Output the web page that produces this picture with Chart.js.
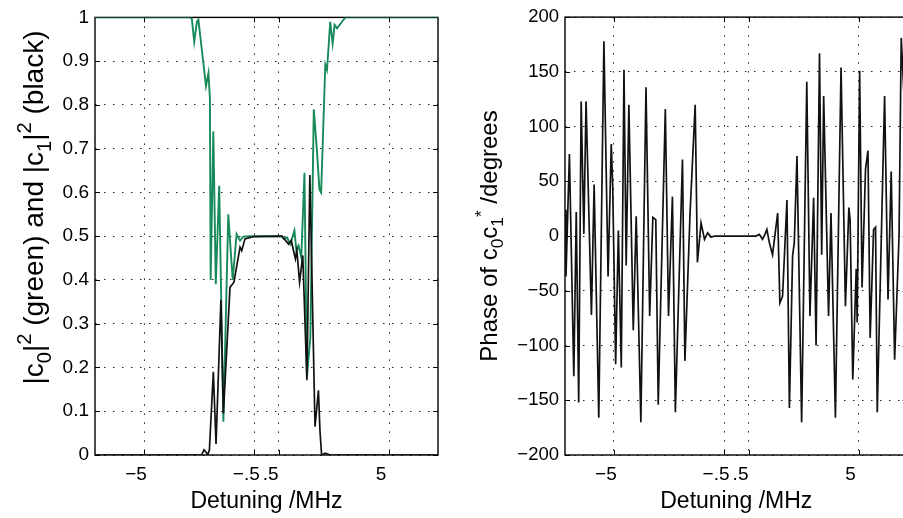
<!DOCTYPE html>
<html><head><meta charset="utf-8">
<script src="https://cdn.jsdelivr.net/npm/chart.js@4"></script>
<style>
html,body{margin:0;padding:0;background:#fff;overflow:hidden;}
#wrap{position:relative;width:903px;height:518px;overflow:hidden;background:#fff;}
.cw{position:absolute;top:0;width:460px;height:518px;}
</style></head><body>
<div id="wrap">
<div class="cw" style="left:0"><canvas id="c1" width="460" height="518"></canvas></div>
<div class="cw" style="left:460px"><canvas id="c2" width="460" height="518"></canvas></div>
</div>
<script>
// ---------- data ----------
const xTickValues = [-5, -0.5, 0.5, 5];
const xTickLabels = ['−5', '−.5', '.5', '5'];
const yTicksLeft = [0, 0.1, 0.2, 0.3, 0.4, 0.5, 0.6, 0.7, 0.8, 0.9, 1];
const yLabelsLeft = ['0', '0.1', '0.2', '0.3', '0.4', '0.5', '0.6', '0.7', '0.8', '0.9', '1'];
const yTicksRight = [-200, -150, -100, -50, 0, 50, 100, 150, 200];
const yLabelsRight = ['−200', '−150', '−100', '−50', '0', '50', '100', '150', '200'];

// |c0|^2 (green)
const c0X = [-7, -3.15, -3.05, -2.95, -2.84, -2.78, -2.47, -2.37, -2.31, -2.28, -2.17, -2.07, -1.93, -1.76, -1.56, -1.38, -1.22, -1.08, -0.95, -0.7, 0.63, 0.70, 0.84, 0.97, 1.14, 1.22, 1.31, 1.42, 1.55, 1.65, 1.79, 1.93, 2.06, 2.16, 2.23, 2.40, 2.47, 2.54, 2.60, 2.70, 2.78, 2.88, 3.08, 3.22, 7];
const c0Y = [1, 1, 0.998, 0.944, 0.99, 0.995, 0.843, 0.873, 0.816, 0.40, 0.74, 0.39, 0.615, 0.076, 0.55, 0.40, 0.505, 0.49, 0.499, 0.5, 0.5, 0.494, 0.497, 0.482, 0.513, 0.467, 0.478, 0.452, 0.645, 0.178, 0.27, 0.79, 0.695, 0.607, 0.60, 0.892, 0.88, 0.938, 0.99, 0.94, 0.983, 0.975, 0.99, 1, 1];

// |c1|^2 (black)
const c1X = [-7, -2.65, -2.55, -2.45, -2.40, -2.33, -2.17, -2.06, -1.86, -1.76, -1.49, -1.33, -1.22, -1.08, -1.01, -0.88, -0.55, 0.63, 0.90, 1.01, 1.18, 1.24, 1.35, 1.48, 1.65, 1.77, 1.98, 2.12, 2.18, 2.25, 2.4, 2.6, 7];
const c1Y = [0, 0, 0.012, 0.005, 0.0, 0.012, 0.19, 0.025, 0.355, 0.095, 0.383, 0.395, 0.43, 0.475, 0.467, 0.494, 0.499, 0.5, 0.482, 0.49, 0.448, 0.467, 0.395, 0.456, 0.171, 0.64, 0.065, 0.148, 0.057, 0, 0.004, 0, 0];

// phase of c0 c1* (degrees)
const phaseX = [-7.0, -6.96, -6.82, -6.64, -6.54, -6.44, -6.34, -6.23, -6.14, -5.92, -5.81, -5.62, -5.41, -5.24, -5.11, -5.05, -4.93, -4.82, -4.70, -4.59, -4.50, -4.39, -4.21, -4.09, -3.90, -3.69, -3.54, -3.41, -3.29, -3.19, -2.90, -2.77, -2.61, -2.49, -2.20, -2.10, -1.89, -1.68, -1.59, -1.44, -1.30, -1.17, -1.03, -0.89, 0.80, 0.94, 1.07, 1.17, 1.25, 1.35, 1.48, 1.69, 1.78, 1.89, 2.07, 2.17, 2.30, 2.37, 2.48, 2.67, 2.88, 3.01, 3.16, 3.26, 3.40, 3.49, 3.57, 3.77, 3.87, 4.05, 4.28, 4.46, 4.60, 4.65, 4.76, 4.90, 4.94, 5.04, 5.14, 5.28, 5.38, 5.47, 5.61, 5.69, 5.76, 6.06, 6.20, 6.33, 6.47, 6.65, 6.74, 7.0];
const phaseY = [24, -37, 75, -128, 22, -152, 123, 2, 123, -72, 47, -166, 178, -37, 84, 45, -117, 5, -120, 152, -27, 120, -86, 18, -170, 136, -73, 17, 15, -154, 116, -73, 36, -161, 70, -114, 21, 120, -24, 12, -3, 3, -1, 0, 0, 1.5, -3, 1.5, 6, -6, -17, 21, -61, -55, 33, -157, -18, -6, 73, -170, 141, -73, 35, -100, 167, -17, 128, -73, 21, -166, 154, -64, 26, 15, -131, -30, -79, 151, -47, 61, 78, -93, 6, 8, -161, 128, -58, 59, -113, 0, 181, 60];

// ---------- helpers ----------
const FONT = '"Liberation Sans", Arial, Helvetica, sans-serif';
const GREEN = '#178a5a';
const BLACK = '#111111';
const pts = (xs, ys) => xs.map((x, i) => ({x: x, y: ys[i]}));

function drawRich(ctx, segs, cx, cy, rot, size) {
  ctx.save();
  ctx.translate(cx, cy);
  ctx.rotate(rot);
  const small = size * 0.72;
  let total = 0;
  segs.forEach(s => {
    ctx.font = ((s.sub || s.sup) ? small : size) + 'px ' + FONT;
    s.w = ctx.measureText(s.t).width;
    total += s.w;
  });
  let x = -total / 2;
  ctx.fillStyle = '#000';
  ctx.textBaseline = 'alphabetic';
  ctx.textAlign = 'left';
  segs.forEach(s => {
    ctx.font = ((s.sub || s.sup) ? small : size) + 'px ' + FONT;
    const dy = s.sub ? size * 0.28 : (s.sup ? -size * 0.42 : 0);
    ctx.fillText(s.t, x, dy + size * 0.36);
    x += s.w;
  });
  ctx.restore();
}

function framePlugin(o) {
  return {
    id: 'frame',
    beforeDatasetsDraw(chart) {
      const ctx = chart.ctx, a = chart.chartArea, sx = chart.scales.x, sy = chart.scales.y;
      ctx.save();
      ctx.strokeStyle = '#000';
      ctx.lineWidth = 1.4;
      ctx.strokeRect(a.left, a.top, a.right - a.left, a.bottom - a.top);
      ctx.lineWidth = 1;
      const tl = 5;
      ctx.beginPath();
      sx.ticks.forEach(t => {
        const p = Math.round(sx.getPixelForValue(t.value)) + 0.5;
        ctx.moveTo(p, a.bottom); ctx.lineTo(p, a.bottom - tl);
        ctx.moveTo(p, a.top); ctx.lineTo(p, a.top + tl);
      });
      sy.ticks.forEach(t => {
        const p = Math.round(sy.getPixelForValue(t.value)) + 0.5;
        ctx.moveTo(a.left, p); ctx.lineTo(a.left + tl, p);
        ctx.moveTo(a.right, p); ctx.lineTo(a.right - tl, p);
      });
      ctx.stroke();
      ctx.restore();
    },
    afterDraw(chart) {
      const ctx = chart.ctx, a = chart.chartArea;
      drawRich(ctx, o.yTitle, o.yTitleX, o.yTitleY, -Math.PI / 2, o.yTitleSize);
      ctx.save();
      ctx.font = o.xTitleSize + 'px ' + FONT;
      ctx.fillStyle = '#000';
      ctx.textAlign = 'center';
      ctx.textBaseline = 'alphabetic';
      ctx.fillText('Detuning /MHz', (a.left + a.right) / 2, o.xTitleBase);
      ctx.restore();
    }
  };
}

function xScale(size) {
  return {
    type: 'linear', min: -7, max: 7,
    afterBuildTicks: s => { s.ticks = xTickValues.map(v => ({value: v})); },
    afterFit: s => { s.height = 63; },
    grid: {color: '#222', lineWidth: 1, drawTicks: false},
    border: {display: false, dash: [1.5, 7.5]},
    ticks: {autoSkip: false, maxRotation: 0, minRotation: 0, padding: 8, labelOffset: -8,
      color: '#000', font: {family: FONT, size: size},
      callback: (v, i) => xTickLabels[i]}
  };
}

function yScale(min, max, vals, labels, width, size) {
  return {
    type: 'linear', min: min, max: max,
    afterBuildTicks: s => { s.ticks = vals.map(v => ({value: v})); },
    afterFit: s => { s.width = width; },
    grid: {color: '#222', lineWidth: 1, drawTicks: false},
    border: {display: false, dash: [1.5, 7.5]},
    ticks: {padding: 6, color: '#000', font: {family: FONT, size: size},
      callback: (v, i) => labels[i]}
  };
}

const baseOpts = {
  responsive: false, animation: false, devicePixelRatio: 1,
  plugins: {legend: {display: false}, tooltip: {enabled: false}},
  elements: {point: {radius: 0}, line: {tension: 0}}
};

new Chart(document.getElementById('c1'), {
  type: 'line',
  data: {datasets: [
    {data: pts(c1X, c1Y), borderColor: BLACK, borderWidth: 1.7, fill: false},
    {data: pts(c0X, c0Y), borderColor: GREEN, borderWidth: 1.9, fill: false}
  ]},
  options: Object.assign({}, baseOpts, {
    layout: {padding: {top: 16, right: 22, bottom: 0, left: 0}},
    scales: {
      x: xScale(19),
      y: yScale(0, 1, yTicksLeft, yLabelsLeft, 95, 19)
    }
  }),
  plugins: [framePlugin({
    yTitle: [{t: '|c'}, {t: '0', sub: true}, {t: '|'}, {t: '2', sup: true}, {t: ' (green) and |c'}, {t: '1', sub: true}, {t: '|'}, {t: '2', sup: true}, {t: ' (black)'}],
    yTitleX: 33, yTitleY: 207.5, yTitleSize: 28, xTitleSize: 23, xTitleBase: 508
  })]
});

new Chart(document.getElementById('c2'), {
  type: 'line',
  data: {datasets: [
    {data: pts(phaseX, phaseY), borderColor: BLACK, borderWidth: 1.7, fill: false}
  ]},
  options: Object.assign({}, baseOpts, {
    layout: {padding: {top: 17, right: 12.4, bottom: 0, left: 0}},
    scales: {
      x: xScale(19),
      y: yScale(-200, 200, yTicksRight, yLabelsRight, 105, 18.5)
    }
  }),
  plugins: [framePlugin({
    yTitle: [{t: 'Phase of c'}, {t: '0', sub: true}, {t: 'c'}, {t: '1', sub: true}, {t: '*', sup: true}, {t: ' /degrees'}],
    yTitleX: 28, yTitleY: 236, yTitleSize: 24, xTitleSize: 23, xTitleBase: 508
  })]
});
</script>
</body></html>
